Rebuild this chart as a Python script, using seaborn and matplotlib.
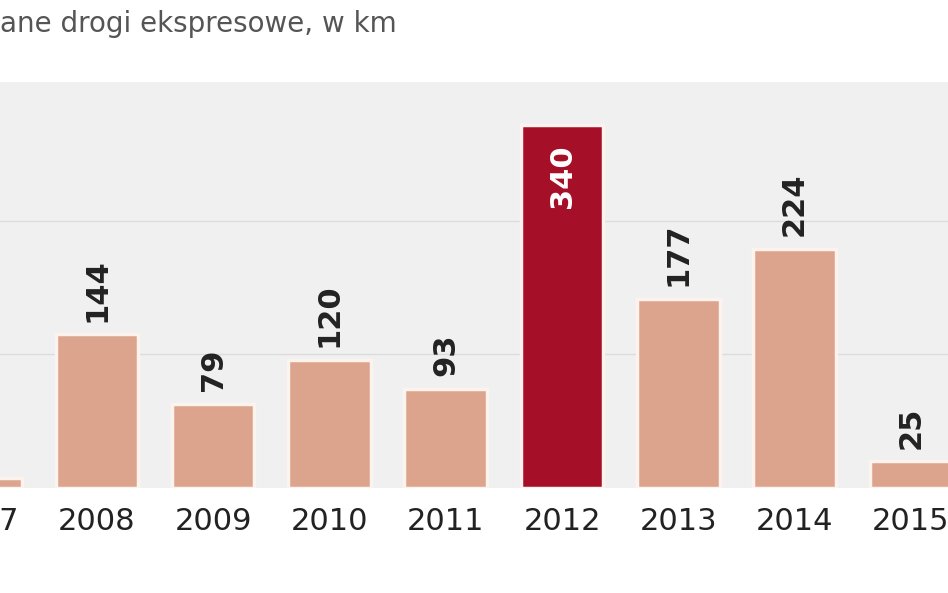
import matplotlib
matplotlib.use("Agg")
import matplotlib.pyplot as plt
import seaborn as sns
import pandas as pd

# data
years = ["2007", "2008", "2009", "2010", "2011", "2012", "2013", "2014", "2015"]
km = [9, 144, 79, 120, 93, 340, 177, 224, 25]
highlight = "2012"

df = pd.DataFrame({"year": years, "km": km})
colors = ["#a50f28" if y == highlight else "#dca38d" for y in years]

sns.set_style("white")
fig = plt.figure(figsize=(9.48, 5.93), dpi=100)
ax = fig.add_axes([0, 0.177, 1, 0.685])
ax.set_facecolor("#f0f0f1")

sns.barplot(data=df, x="year", y="km", hue="year", palette=colors, legend=False,
            saturation=1, width=0.71, edgecolor="#fdf3ee", linewidth=2.5,
            ax=ax, zorder=3)

for g in [125, 250]:
    ax.axhline(g, color="#dcdcdc", lw=1, zorder=1)

for i, (y, v) in enumerate(zip(years, km)):
    if y == highlight:
        ax.annotate(str(v), (i, v), xytext=(0, -14), textcoords="offset points",
                    rotation=90, ha="center", va="top", fontsize=22,
                    fontweight="bold", color="white", zorder=4)
    else:
        ax.annotate(str(v), (i, v), xytext=(0, 9), textcoords="offset points",
                    rotation=90, ha="center", va="bottom", fontsize=22,
                    fontweight="bold", color="#222222", zorder=4,
                    annotation_clip=False)

ax.set_xlim(0.166, 8.32)
ax.set_ylim(0, 380)
ax.set_yticks([])
ax.set_xlabel("")
ax.set_ylabel("")
ax.tick_params(axis="x", length=0, labelsize=22, pad=14, colors="#222222")
for s in ax.spines.values():
    s.set_visible(False)

# first year label lies partly outside the visible range, as in the crop
ax.annotate(years[0], (0, 0), xytext=(0, -14), textcoords="offset points",
            ha="center", va="top", fontsize=22, color="#222222",
            annotation_clip=False)

fig.text(0.0, 0.96, "ane drogi ekspresowe, w km", fontsize=20, color="#555555",
         ha="left", va="center")

fig.savefig("out.png", dpi=100)
